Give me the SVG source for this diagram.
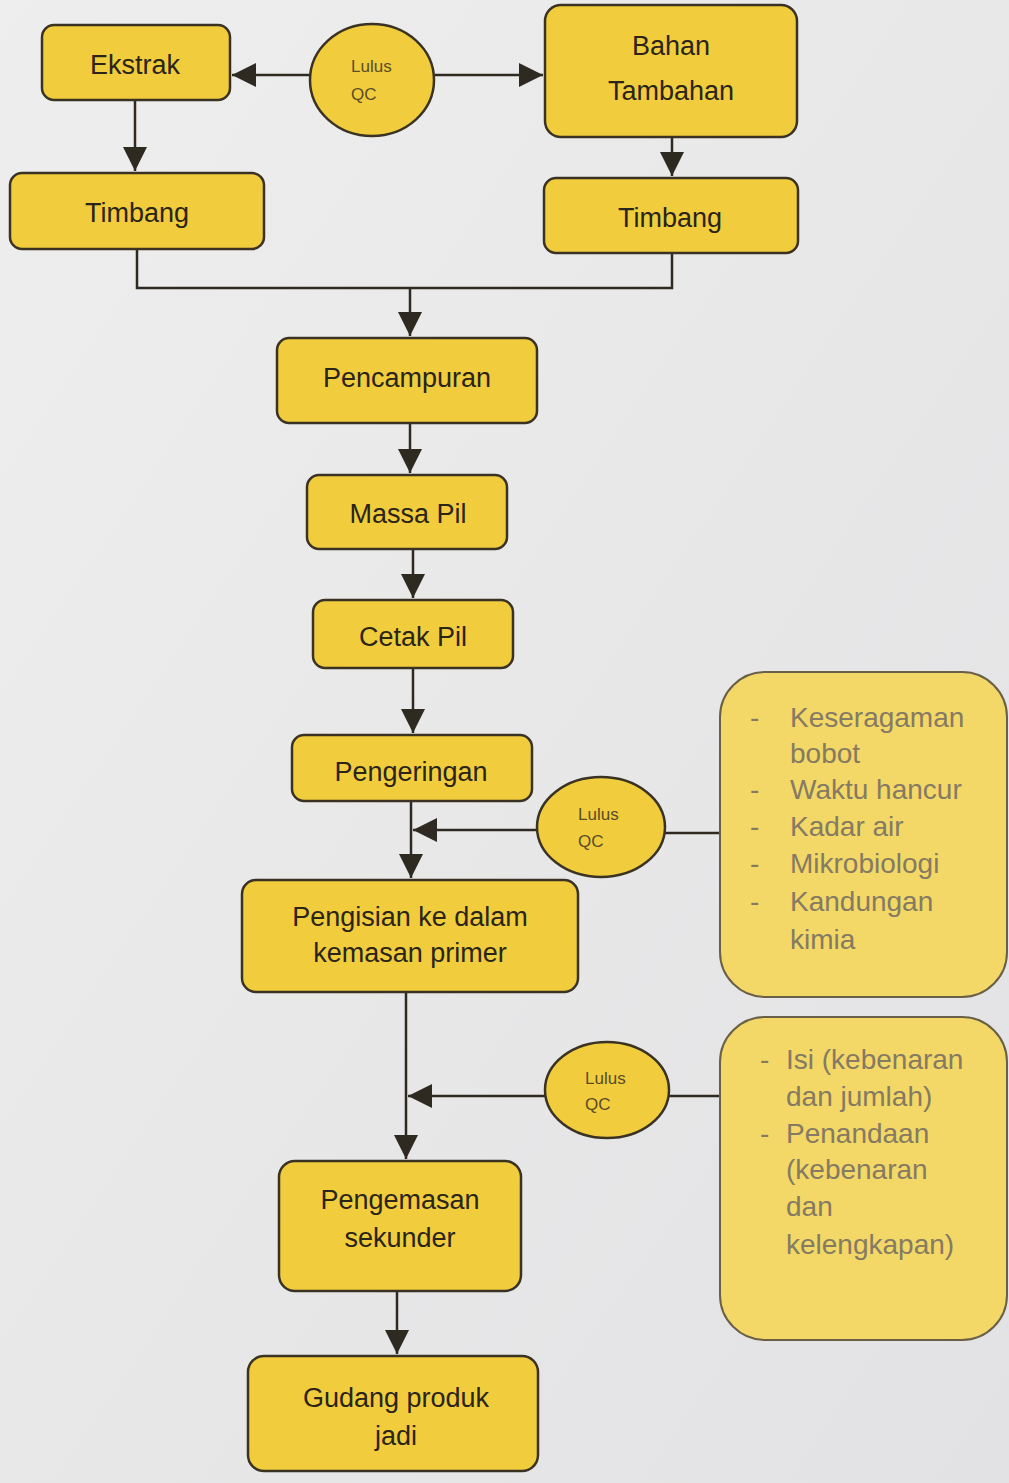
<svg xmlns="http://www.w3.org/2000/svg" width="1009" height="1483" viewBox="0 0 1009 1483">
<defs>
<linearGradient id="bg" x1="0" y1="0" x2="1" y2="1">
<stop offset="0" stop-color="#eeeeee"/><stop offset="1" stop-color="#e2e2e4"/>
</linearGradient>
<marker id="ahb" viewBox="0 0 10 10" refX="10" refY="5" markerWidth="24" markerHeight="24" markerUnits="userSpaceOnUse" orient="auto">
<path d="M0,0 L10,5 L0,10 z" fill="#2e2a22"/>
</marker>
</defs>
<style>
.box{fill:#f1cd3d;stroke:#3a3222;stroke-width:2.5}
.info{fill:#f3d868;stroke:#6a6048;stroke-width:2}
.t{font-family:"Liberation Sans",Arial,sans-serif;font-size:27px;fill:#2b2418;text-anchor:middle}
.s{font-family:"Liberation Sans",Arial,sans-serif;font-size:17px;fill:#5a4c28}
.g{font-family:"Liberation Sans",Arial,sans-serif;font-size:28px;fill:#857a62}
.c{fill:none;stroke:#2e2a22;stroke-width:2.5}
</style>
<rect width="1009" height="1483" fill="url(#bg)"/>

<g id="connectors">
<line class="c" x1="310" y1="75" x2="232" y2="75" marker-end="url(#ahb)"/>
<line class="c" x1="434" y1="75" x2="543" y2="75" marker-end="url(#ahb)"/>
<line class="c" x1="135" y1="100" x2="135" y2="171" marker-end="url(#ahb)"/>
<line class="c" x1="672" y1="137" x2="672" y2="176" marker-end="url(#ahb)"/>
<polyline class="c" points="137,249 137,288 672,288 672,253"/>
<line class="c" x1="410" y1="288" x2="410" y2="336" marker-end="url(#ahb)"/>
<line class="c" x1="410" y1="423" x2="410" y2="473" marker-end="url(#ahb)"/>
<line class="c" x1="413" y1="549" x2="413" y2="598" marker-end="url(#ahb)"/>
<line class="c" x1="413" y1="668" x2="413" y2="733" marker-end="url(#ahb)"/>
<line class="c" x1="411" y1="801" x2="411" y2="878" marker-end="url(#ahb)"/>
<line class="c" x1="538" y1="830" x2="413" y2="830" marker-end="url(#ahb)"/>
<line class="c" x1="665" y1="833" x2="720" y2="833"/>
<line class="c" x1="406" y1="992" x2="406" y2="1159" marker-end="url(#ahb)"/>
<line class="c" x1="546" y1="1096" x2="408" y2="1096" marker-end="url(#ahb)"/>
<line class="c" x1="669" y1="1096" x2="720" y2="1096"/>
<line class="c" x1="397" y1="1291" x2="397" y2="1354" marker-end="url(#ahb)"/>
</g>

<g id="ekstrak">
<rect class="box" x="42" y="25" width="188" height="75" rx="12"/>
<text class="t" x="135" y="74">Ekstrak</text>
</g>
<g id="qc1">
<ellipse class="box" cx="372" cy="80" rx="62" ry="56"/>
<text class="s" x="351" y="72">Lulus</text>
<text class="s" x="351" y="100">QC</text>
</g>
<g id="bahan">
<rect class="box" x="545" y="5" width="252" height="132" rx="16"/>
<text class="t" x="671" y="55">Bahan</text>
<text class="t" x="671" y="100">Tambahan</text>
</g>
<g id="timbang1">
<rect class="box" x="10" y="173" width="254" height="76" rx="12"/>
<text class="t" x="137" y="222">Timbang</text>
</g>
<g id="timbang2">
<rect class="box" x="544" y="178" width="254" height="75" rx="12"/>
<text class="t" x="670" y="227">Timbang</text>
</g>
<g id="pencampuran">
<rect class="box" x="277" y="338" width="260" height="85" rx="12"/>
<text class="t" x="407" y="387">Pencampuran</text>
</g>
<g id="massa">
<rect class="box" x="307" y="475" width="200" height="74" rx="12"/>
<text class="t" x="408" y="523">Massa Pil</text>
</g>
<g id="cetak">
<rect class="box" x="313" y="600" width="200" height="68" rx="12"/>
<text class="t" x="413" y="646">Cetak Pil</text>
</g>
<g id="pengeringan">
<rect class="box" x="292" y="735" width="240" height="66" rx="12"/>
<text class="t" x="411" y="781">Pengeringan</text>
</g>
<g id="qc2">
<ellipse class="box" cx="601" cy="827" rx="64" ry="50"/>
<text class="s" x="578" y="820">Lulus</text>
<text class="s" x="578" y="847">QC</text>
</g>
<g id="info1">
<rect class="info" x="720" y="672" width="287" height="325" rx="45"/>
<text class="g" x="750" y="727">-</text><text class="g" x="790" y="727">Keseragaman</text>
<text class="g" x="790" y="763">bobot</text>
<text class="g" x="750" y="799">-</text><text class="g" x="790" y="799">Waktu hancur</text>
<text class="g" x="750" y="836">-</text><text class="g" x="790" y="836">Kadar air</text>
<text class="g" x="750" y="873">-</text><text class="g" x="790" y="873">Mikrobiologi</text>
<text class="g" x="750" y="911">-</text><text class="g" x="790" y="911">Kandungan</text>
<text class="g" x="790" y="949">kimia</text>
</g>
<g id="pengisian">
<rect class="box" x="242" y="880" width="336" height="112" rx="14"/>
<text class="t" x="410" y="926">Pengisian ke dalam</text>
<text class="t" x="410" y="962">kemasan primer</text>
</g>
<g id="qc3">
<ellipse class="box" cx="607" cy="1090" rx="62" ry="48"/>
<text class="s" x="585" y="1084">Lulus</text>
<text class="s" x="585" y="1110">QC</text>
</g>
<g id="info2">
<rect class="info" x="720" y="1017" width="287" height="323" rx="45"/>
<text class="g" x="760" y="1069">-</text><text class="g" x="786" y="1069">Isi (kebenaran</text>
<text class="g" x="786" y="1106">dan jumlah)</text>
<text class="g" x="760" y="1143">-</text><text class="g" x="786" y="1143">Penandaan</text>
<text class="g" x="786" y="1179">(kebenaran</text>
<text class="g" x="786" y="1216">dan</text>
<text class="g" x="786" y="1254">kelengkapan)</text>
</g>
<g id="pengemasan">
<rect class="box" x="279" y="1161" width="242" height="130" rx="16"/>
<text class="t" x="400" y="1209">Pengemasan</text>
<text class="t" x="400" y="1247">sekunder</text>
</g>
<g id="gudang">
<rect class="box" x="248" y="1356" width="290" height="115" rx="16"/>
<text class="t" x="396" y="1407">Gudang produk</text>
<text class="t" x="396" y="1445">jadi</text>
</g>
</svg>
